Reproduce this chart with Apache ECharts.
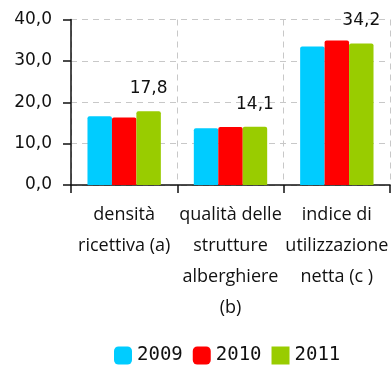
<!DOCTYPE html>
<html>
<head>
<meta charset="utf-8">
<script src="https://cdn.jsdelivr.net/npm/echarts@6/dist/echarts.min.js"></script>
<style>
  html, body { margin: 0; padding: 0; background: #fff; }
  #chart { width: 392px; height: 367px; }
</style>
</head>
<body>
<div id="chart"></div>
<script>
// Indicatori della capacità ricettiva, 2009-2011
const categories = [
  'densità\nricettiva (a)',
  'qualità delle\nstrutture\nalberghiere\n(b)',
  'indice di\nutilizzazione\nnetta (c )'
];
const years = ['2009', '2010', '2011'];
const values2009 = [16.6, 13.7, 33.5];
const values2010 = [16.3, 14.0, 34.9];
const values2011 = [17.8, 14.1, 34.2];
const yTicks = [0, 10, 20, 30, 40];

const colors = ['#00CCFF', '#FF0000', '#99CC00'];
const fmt = v => Number(v).toFixed(1).replace('.', ',');

const chart = echarts.init(document.getElementById('chart'), null, { renderer: 'canvas' });

const seriesData = [values2009, values2010, values2011];

chart.setOption({
  animation: false,
  backgroundColor: '#ffffff',
  grid: { left: 71, right: 2, top: 19.5, bottom: 182, containLabel: false },
  legend: {
    left: 114,
    top: 346,
    padding: 0,
    itemWidth: 18,
    itemHeight: 18,
    itemGap: 10,
    data: [
      { name: '2009', icon: 'roundRect' },
      { name: '2010', icon: 'roundRect' },
      { name: '2011', icon: 'rect' }
    ],
    textStyle: { fontFamily: 'DejaVu Sans Mono', fontSize: 19, color: '#111' }
  },
  xAxis: {
    type: 'category',
    data: categories,
    axisLine: { show: true, lineStyle: { color: '#111', width: 1.5 } },
    axisTick: { show: true, length: 8, inside: false, lineStyle: { color: '#111', width: 1.5 } },
    splitLine: { show: true, lineStyle: { color: '#c8c8c8', type: [6, 5], width: 1 } },
    axisLabel: {
      interval: 0,
      margin: 14,
      fontFamily: 'Open Sans',
      fontSize: 18,
      lineHeight: 31,
      color: '#111'
    }
  },
  yAxis: {
    type: 'value',
    min: yTicks[0],
    max: yTicks[yTicks.length - 1],
    interval: 10,
    axisLine: { show: true, lineStyle: { color: '#111', width: 1.5 } },
    axisTick: { show: true, length: 8, lineStyle: { color: '#111', width: 1.5 } },
    splitLine: { show: true, lineStyle: { color: '#c8c8c8', type: [6, 5], width: 1 } },
    axisLabel: {
      margin: 19,
      fontFamily: 'DejaVu Sans',
      fontSize: 17,
      color: '#111',
      formatter: fmt
    }
  },
  series: years.map((y, i) => ({
    name: y,
    type: 'bar',
    data: seriesData[i],
    barGap: '0%',
    barCategoryGap: '31%',
    itemStyle: { color: colors[i], borderRadius: [2, 2, 0, 0] },
    label: i === 2 ? {
      show: true,
      position: 'top',
      distance: 14,
      fontFamily: 'DejaVu Sans',
      fontSize: 17,
      color: '#111',
      formatter: p => fmt(p.value)
    } : { show: false }
  }))
});
</script>
</body>
</html>
